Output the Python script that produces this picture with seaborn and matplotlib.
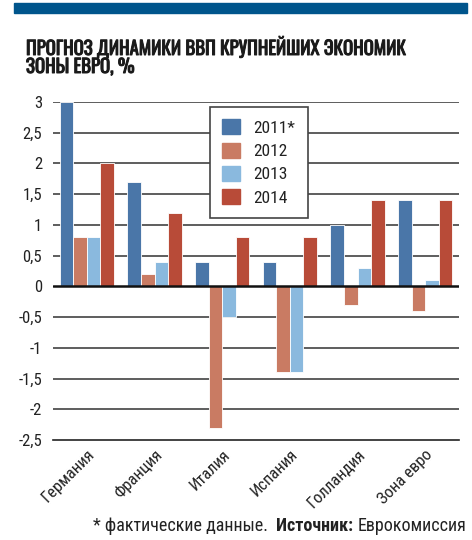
import pandas as pd
import matplotlib.pyplot as plt
import matplotlib.patches as mpatches
import matplotlib.patheffects as pe
import seaborn as sns
from matplotlib.ticker import FuncFormatter, MultipleLocator, FixedLocator

# data
countries = ['Германия', 'Франция', 'Италия', 'Испания', 'Голландия', 'Зона евро']
years = ['2011*', '2012', '2013', '2014']
gdp_2011 = [3.0, 1.7, 0.4, 0.4, 1.0, 1.4]
gdp_2012 = [0.8, 0.2, -2.3, -1.4, -0.3, -0.4]
gdp_2013 = [0.8, 0.4, -0.5, -1.4, 0.3, 0.1]
gdp_2014 = [2.0, 1.2, 0.8, 0.8, 1.4, 1.4]

colors = ['#4a76a8', '#c97b63', '#8ab9de', '#b84b38']

rows = []
for yr, vals in zip(years, [gdp_2011, gdp_2012, gdp_2013, gdp_2014]):
    for c, v in zip(countries, vals):
        rows.append({'country': c, 'year': yr, 'value': v})
df = pd.DataFrame(rows)

sns.set_style('white')
plt.rcParams['font.family'] = ['Roboto Condensed', 'DejaVu Sans']

fig = plt.figure(figsize=(4.72, 5.4), dpi=100)
ax = fig.add_axes([53/472, 1 - 440/540, (459 - 53)/472, (440 - 102)/540])

# grid first so bars sit on top
for y in [-2, -1.5, -1, -0.5, 0.5, 1, 1.5, 2, 2.5, 3]:
    ax.axhline(y, color='#505050', lw=1.3, zorder=0)

sns.barplot(data=df, x='country', y='value', hue='year', order=countries,
            hue_order=years, palette=colors, width=0.8, saturation=1,
            edgecolor='white', linewidth=0.6, ax=ax, zorder=2)
ax.axhline(0, color='#111111', lw=1.8, zorder=3)

ax.set_ylim(-2.5, 3)
ax.set_xlim(-0.5, len(countries) - 0.5)
ax.yaxis.set_major_locator(MultipleLocator(0.5))
ax.yaxis.set_major_formatter(FuncFormatter(lambda v, p: ('%g' % v).replace('.', ',')))
ax.tick_params(axis='y', length=0, labelsize=12, pad=8, labelcolor='#222222')
ax.set_xlabel('')
ax.set_ylabel('')

ax.xaxis.set_minor_locator(FixedLocator([i - 0.5 for i in range(len(countries) + 1)]))
ax.tick_params(axis='x', which='minor', length=6, width=1, color='#222222', direction='out')
ax.tick_params(axis='x', which='major', length=0, labelsize=12, pad=5, labelcolor='#222222')
for lab in ax.get_xticklabels():
    lab.set_rotation(45)
    lab.set_ha('right')
    lab.set_rotation_mode('anchor')

for s in ['top', 'left', 'right']:
    ax.spines[s].set_visible(False)
ax.spines['bottom'].set_color('#222222')
ax.spines['bottom'].set_linewidth(1.2)

handles = [mpatches.Patch(color=c, label=y) for c, y in zip(colors, years)]
leg = ax.legend(handles=handles, loc='upper left', bbox_to_anchor=(0.387, 0.985),
                frameon=True, fancybox=False, fontsize=12.5, handlelength=1.0,
                handleheight=0.95, handletextpad=0.8, labelspacing=0.4,
                borderpad=0.7, borderaxespad=0)
leg.get_frame().set_edgecolor('#444444')
leg.get_frame().set_linewidth(1.2)
leg.get_frame().set_alpha(1)
for t in leg.get_texts():
    t.set_color('#222222')

# header band and title (stroke makes the condensed face heavier)
fig.patches.append(mpatches.Rectangle((14/472, 1 - 13/540), (467 - 14)/472, 10/540,
                                      transform=fig.transFigure, color='#00558c'))
title_font = dict(family=['Oswald', 'Roboto Condensed', 'DejaVu Sans'], fontsize=13.5,
                  fontweight='bold', ha='left', va='baseline', color='#1a1a1a',
                  path_effects=[pe.withStroke(linewidth=0.7, foreground='#1a1a1a')])
fig.text(26/472, 1 - 55/540, 'ПРОГНОЗ ДИНАМИКИ ВВП КРУПНЕЙШИХ ЭКОНОМИК', **title_font)
fig.text(26/472, 1 - 73/540, 'ЗОНЫ ЕВРО, %', **title_font)

# footnote
t3 = fig.text(466/472, 1 - 531/540, 'Еврокомиссия', fontsize=13, ha='right',
              va='baseline', color='#222222')
t2 = ax.annotate('Источник: ', xy=(0, 0), xycoords=t3, ha='right', va='bottom',
                 fontsize=13, fontweight='bold', color='#222222')
ax.annotate('* фактические данные.  ', xy=(0, 0), xycoords=t2, ha='right', va='bottom',
            fontsize=13, color='#222222')

fig.savefig('out.png', dpi=100)
